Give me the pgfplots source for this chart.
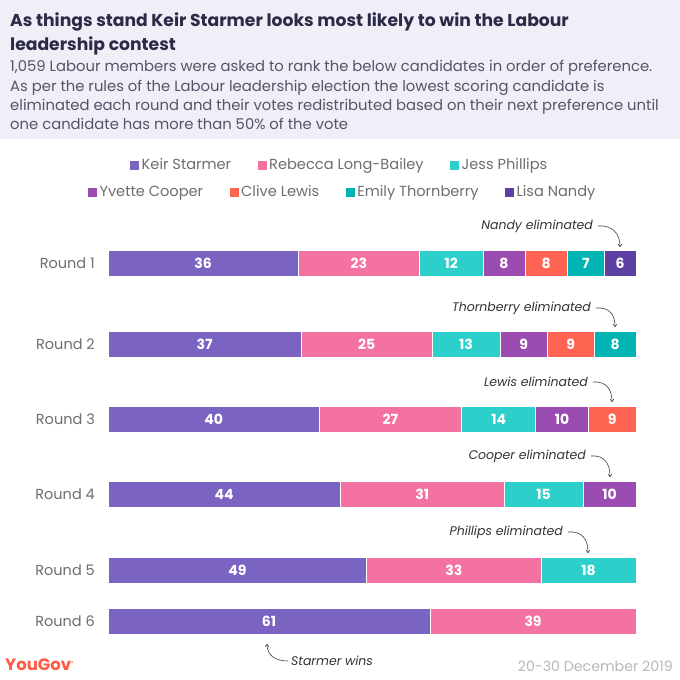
\documentclass[border=0pt]{standalone}
\usepackage{fontspec}
\setmainfont{Poppins}
\usepackage{pgfplots}
\pgfplotsset{compat=1.18}
\usepackage{pgfplotstable}
\usetikzlibrary{arrows.meta}

\definecolor{cStarmer}{HTML}{7B63C1}
\definecolor{cRLB}{HTML}{F472A1}
\definecolor{cPhillips}{HTML}{2DCFCB}
\definecolor{cCooper}{HTML}{9A4CB0}
\definecolor{cLewis}{HTML}{FF6452}
\definecolor{cThorn}{HTML}{00B4B3}
\definecolor{cNandy}{HTML}{5E40A4}
\definecolor{headerbg}{HTML}{F0EEF6}
\definecolor{titlecol}{HTML}{2C2B47}
\definecolor{subcol}{HTML}{55546A}
\definecolor{labcol}{HTML}{6E6E6E}
\definecolor{yougov}{HTML}{FF5A45}
\definecolor{datecol}{HTML}{B8B8B8}

\pgfplotstableread{
x y label
36 263 36
36.63 344 37
40 419 40
44 494 44
49 570 49
61 621 61
}\starmer
\pgfplotstableread{
x y label
23 263 23
24.75 344 25
27 419 27
31 494 31
33 570 33
39 621 39
}\rlb
\pgfplotstableread{
x y label
12 263 12
12.87 344 13
14 419 14
15 494 15
18 570 18
}\phillips
\pgfplotstableread{
x y label
8 263 8
8.91 344 9
10 419 10
10 494 10
}\cooper
\pgfplotstableread{
x y label
8 263 8
8.91 344 9
9 419 9
}\lewis
\pgfplotstableread{
x y label
7 263 7
7.92 344 8
}\thorn
\pgfplotstableread{
x y label
6 263 6
}\nandy

\pgfplotsset{
  mylegend/.style={legend image code/.code={\fill[##1,draw=none] (0pt,-4.5pt) rectangle (9pt,4.5pt);}},
  seg/.style={fill=#1, draw=white, line width=0.6pt, mylegend},
  mylegstyle/.style={legend style={draw=none, fill=none, inner sep=0pt, anchor=center,
     font=\fontsize{14.6}{17}\selectfont, text=labcol,
     nodes={inner sep=2.5pt},
     /tikz/every even column/.append style={column sep=24pt}},
     legend columns=-1},
  base/.style={at={(108pt,0pt)}, anchor=north west,
     scale only axis, width=528pt, height=680pt,
     xmin=0, xmax=100, ymin=0, ymax=680, y dir=reverse, clip=false},
}

\begin{document}
\begin{tikzpicture}
\begin{scope}[x=1pt,y=-1pt]
\fill[white] (0,0) rectangle (680,680);
\fill[headerbg] (0,0) rectangle (680,139);
\node[anchor=base west, inner sep=0pt, text=titlecol, font=\bfseries\fontsize{17.2}{20}\selectfont] at (10,27) {As things stand Keir Starmer looks most likely to win the Labour};
\node[anchor=base west, inner sep=0pt, text=titlecol, font=\bfseries\fontsize{17.2}{20}\selectfont] at (10,50) {leadership contest};
\node[anchor=base west, inner sep=0pt, text=subcol, font=\fontsize{14.8}{17}\selectfont] at (10,71) {1,059 Labour members were asked to rank the below candidates in order of preference.};
\node[anchor=base west, inner sep=0pt, text=subcol, font=\fontsize{14.8}{17}\selectfont] at (10,91) {As per the rules of the Labour leadership election the lowest scoring candidate is};
\node[anchor=base west, inner sep=0pt, text=subcol, font=\fontsize{14.8}{17}\selectfont] at (10,110) {eliminated each round and their votes redistributed based on their next preference until};
\node[anchor=base west, inner sep=0pt, text=subcol, font=\fontsize{14.8}{17}\selectfont] at (10,129) {one candidate has more than 50\% of the vote};
\end{scope}

\begin{axis}[base,
  hide x axis,
  axis y line*=left, y axis line style={draw=none},
  ytick={263,344,419,494,570,621},
  yticklabels={Round 1,Round 2,Round 3,Round 4,Round 5,Round 6},
  major tick length=0pt, ytick style={draw=none},
  yticklabel style={anchor=east, inner sep=0pt, xshift=-13pt, text=labcol, font=\fontsize{14.5}{16}\selectfont},
  xbar stacked, bar width=26pt,
  nodes near coords, point meta=explicit symbolic,
  every node near coord/.append style={text=white, font=\bfseries\fontsize{14}{16}\selectfont, anchor=center},
  mylegstyle,
  legend style={at={(axis cs:43.94,165)}},
]
\addplot[seg=cStarmer] table[x=x,y=y,meta=label]{\starmer};
\addlegendentry{Keir Starmer}
\addplot[seg=cRLB] table[x=x,y=y,meta=label]{\rlb};
\addlegendentry{Rebecca Long-Bailey}
\addplot[seg=cPhillips] table[x=x,y=y,meta=label]{\phillips};
\addlegendentry{Jess Phillips}
\addplot[seg=cCooper] table[x=x,y=y,meta=label]{\cooper};
\addplot[seg=cLewis] table[x=x,y=y,meta=label]{\lewis};
\addplot[seg=cThorn] table[x=x,y=y,meta=label]{\thorn};
\addplot[seg=cNandy] table[x=x,y=y,meta=label]{\nandy};
\end{axis}

\begin{axis}[base, hide axis, mylegstyle, legend style={at={(axis cs:44.5,192)}}]
\addlegendimage{mylegend, fill=cCooper}
\addlegendentry{Yvette Cooper}
\addlegendimage{mylegend, fill=cLewis}
\addlegendentry{Clive Lewis}
\addlegendimage{mylegend, fill=cThorn}
\addlegendentry{Emily Thornberry}
\addlegendimage{mylegend, fill=cNandy}
\addlegendentry{Lisa Nandy}
\end{axis}

\begin{scope}[x=1pt,y=-1pt]
\tikzset{ann/.style={anchor=east, inner sep=0pt, text=black!80, font=\itshape\fontsize{12.5}{15}\selectfont},
  arr/.style={-{To[length=3pt,width=4pt]}, line width=0.6pt, black!75}}
\node[ann] at (593,226) {Nandy eliminated};
\draw[arr] (598,226) .. controls (612,225) and (620,233) .. (620,247);
\node[ann] at (591,308) {Thornberry eliminated};
\draw[arr] (596,308) .. controls (609,307) and (615,314) .. (615,327);
\node[ann] at (588,382) {Lewis eliminated};
\draw[arr] (593,382) .. controls (606,381) and (612,389) .. (612,402);
\node[ann] at (586,456) {Cooper eliminated};
\draw[arr] (591,456) .. controls (604,455) and (610,463) .. (610,477);
\node[ann] at (563,532) {Phillips eliminated};
\draw[arr] (568,532) .. controls (582,531) and (588,539) .. (588,553);
\node[ann, anchor=west] at (291,661) {Starmer wins};
\draw[arr] (288,661) .. controls (275,661) and (267,655) .. (267,644);
\node[anchor=west, inner sep=0pt, text=yougov, font=\bfseries\fontsize{16.5}{18}\selectfont] at (5,665) {YouGov\raisebox{6pt}{\fontsize{4}{4}\selectfont ®}};
\node[anchor=east, inner sep=0pt, text=datecol, font=\fontsize{14.2}{17}\selectfont] at (673,666) {20-30 December 2019};
\end{scope}
\end{tikzpicture}
\end{document}
